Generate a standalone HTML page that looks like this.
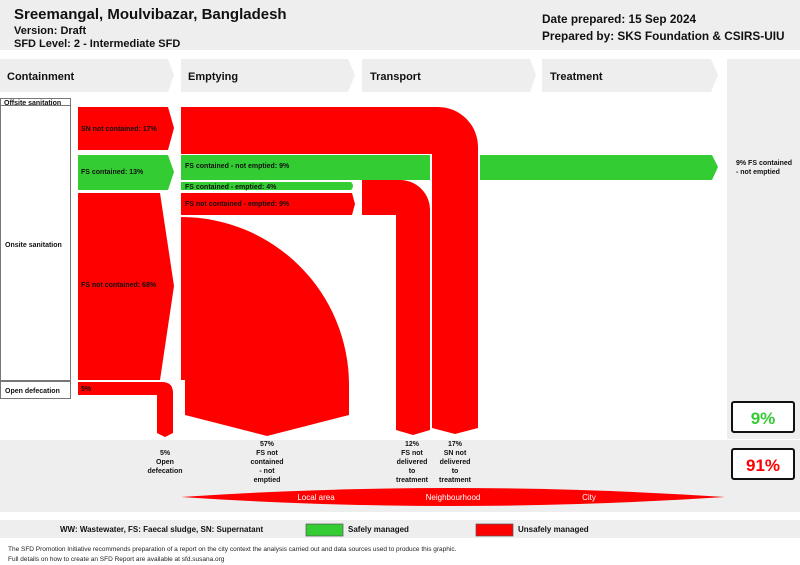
<!DOCTYPE html>
<html><head><meta charset="utf-8"><style>
body{margin:0;width:800px;height:565px;overflow:hidden;background:#fff}
svg{display:block}
text{font-family:"Liberation Sans",Arial,sans-serif}
</style></head><body>
<svg width="800" height="565" viewBox="0 0 800 565" xmlns="http://www.w3.org/2000/svg">
<rect x="0" y="0" width="800" height="50" fill="#eeeeee"/>
<text x="14" y="19" font-size="15" font-weight="bold" fill="#111">Sreemangal, Moulvibazar, Bangladesh</text>
<text x="14" y="34" font-size="11" font-weight="bold" fill="#111">Version: Draft</text>
<text x="14" y="47" font-size="11" font-weight="bold" fill="#111">SFD Level: 2 - Intermediate SFD</text>
<text x="542" y="23" font-size="11.8" font-weight="bold" fill="#111">Date prepared: 15 Sep 2024</text>
<text x="542" y="40" font-size="11.8" font-weight="bold" fill="#111">Prepared by: SKS Foundation &amp; CSIRS-UIU</text>
<g fill="#eeeeee">
<polygon points="0,59 168,59 174,75 168,92 0,92"/>
<polygon points="181,59 348,59 355,75 348,92 181,92"/>
<polygon points="362,59 530,59 536,75 530,92 362,92"/>
<polygon points="542,59 711,59 718,75 711,92 542,92"/>
<rect x="727" y="59" width="73" height="380"/>
<rect x="0" y="440" width="800" height="72"/>
<rect x="0" y="520" width="800" height="18"/>
</g>
<g font-size="11" font-weight="bold" fill="#111">
<text x="7" y="80">Containment</text><text x="188" y="80">Emptying</text>
<text x="370" y="80">Transport</text><text x="550" y="80">Treatment</text>
</g>
<g fill="#fff" stroke="#777" stroke-width="1">
<rect x="0.5" y="98.5" width="70" height="7"/>
<rect x="0.5" y="105.5" width="70" height="275"/>
<rect x="0.5" y="381.5" width="70" height="17"/>
</g>
<g font-size="7" font-weight="bold" fill="#111">
<text x="4" y="105">Offsite sanitation</text>
<text x="5" y="247">Onsite sanitation</text>
<text x="5" y="393">Open defecation</text>
</g>
<g fill="#ff0000">
<polygon points="78,107 168,107 174,128 168,150 78,150"/>
<polygon points="78,193 160,193 174,286 160,380 78,380"/>
<path d="M78,382 L162,382 Q173,382 173,393 L173,433 L165,437 L157,433 L157,395 L78,395 Z"/>
<path d="M181,107 L438,107 A40,40 0 0 1 478,147 L478,428 L455,434 L432,428 L432,154 L181,154 Z"/>
<polygon points="181,193 352,193 355,204 352,215 181,215"/>
<path d="M362,180 L400,180 A30,30 0 0 1 430,210 L430,430 L413,435 L396,430 L396,215 L362,215 Z"/>
<path d="M181,217 A168,168 0 0 1 349,385 L349,415 L267,436 L185,415 L185,380 L181,380 Z"/>
<path d="M181,497 Q450,479 725,497 Q450,515 181,497 Z"/>
</g>
<g fill="#33cc33">
<polygon points="78,155 168,155 174,172 168,190 78,190"/>
<rect x="181" y="155" width="249" height="25"/>
<polygon points="480,155 712,155 718,167 712,180 480,180"/>
<path d="M181,182 L351,182 Q355,186 351,190 L181,190 Z"/>
</g>
<g font-size="7" font-weight="bold" fill="#111">
<text x="81" y="131">SN not contained: 17%</text>
<text x="81" y="174">FS contained: 13%</text>
<text x="81" y="287">FS not contained: 68%</text>
<text x="81" y="391">5%</text>
<text x="185" y="168">FS contained - not emptied: 9%</text>
<text x="185" y="189">FS contained - emptied: 4%</text>
<text x="185" y="206">FS not contained - emptied: 9%</text>
<text x="736" y="165">9% FS contained</text>
<text x="736" y="174">- not emptied</text>
</g>
<g font-size="7" font-weight="bold" fill="#111" text-anchor="middle">
<text x="165" y="455">5%</text><text x="165" y="464">Open</text><text x="165" y="473">defecation</text>
<text x="267" y="446">57%</text><text x="267" y="455">FS not</text><text x="267" y="464">contained</text><text x="267" y="473">- not</text><text x="267" y="482">emptied</text>
<text x="412" y="446">12%</text><text x="412" y="455">FS not</text><text x="412" y="464">delivered</text><text x="412" y="473">to</text><text x="412" y="482">treatment</text>
<text x="455" y="446">17%</text><text x="455" y="455">SN not</text><text x="455" y="464">delivered</text><text x="455" y="473">to</text><text x="455" y="482">treatment</text>
</g>
<g font-size="8" fill="#fff" text-anchor="middle">
<text x="316" y="500">Local area</text><text x="453" y="500">Neighbourhood</text><text x="589" y="500">City</text>
</g>
<rect x="732" y="402" width="62" height="30" rx="2" fill="#fff" stroke="#111" stroke-width="2"/>
<text x="763" y="424" font-size="17" font-weight="bold" fill="#33cc33" text-anchor="middle">9%</text>
<rect x="732" y="449" width="62" height="30" rx="2" fill="#fff" stroke="#111" stroke-width="2"/>
<text x="763" y="471" font-size="17" font-weight="bold" fill="#ff0000" text-anchor="middle">91%</text>
<text x="60" y="532" font-size="8" font-weight="bold" fill="#111">WW: Wastewater, FS: Faecal sludge, SN: Supernatant</text>
<rect x="306" y="524" width="37" height="12" fill="#33cc33" stroke="#555" stroke-width="0.7"/>
<text x="348" y="532" font-size="8" font-weight="bold" fill="#111">Safely managed</text>
<rect x="476" y="524" width="37" height="12" fill="#ff0000" stroke="#555" stroke-width="0.7"/>
<text x="518" y="532" font-size="8" font-weight="bold" fill="#111">Unsafely managed</text>
<text x="8" y="551" font-size="6.5" fill="#222">The SFD Promotion Initiative recommends preparation of a report on the city context the analysis carried out and data sources used to produce this graphic.</text>
<text x="8" y="561" font-size="6.5" fill="#222">Full details on how to create an SFD Report are available at sfd.susana.org</text>
</svg>
</body></html>
